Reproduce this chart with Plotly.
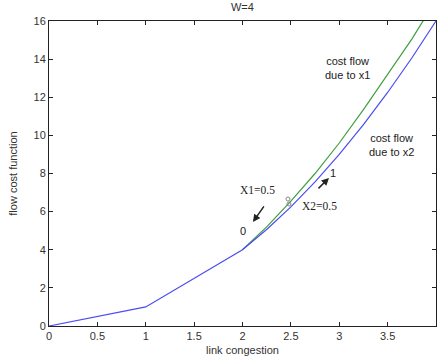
import plotly.graph_objects as go

# Data
blue_x = [0, 1, 2, 2.25, 2.5, 2.75, 3, 3.25, 3.5, 3.75, 4]
blue_y = [0, 1, 4, 5.06, 6.25, 7.56, 9, 10.56, 12.25, 14.06, 16]
green_x = [2, 2.25, 2.5, 2.75, 3, 3.25, 3.5, 3.75, 4]
green_y = [4, 5.2, 6.55, 8.0, 9.6, 11.35, 13.2, 15.05, 17.1]
mark_x = [2.47, 2.48]
mark_y = [6.66, 6.40]

x_ticks = [0, 0.5, 1, 1.5, 2, 2.5, 3, 3.5, 4]
x_labels = ["0", "0.5", "1", "1.5", "2", "2.5", "3", "3.5", "4"]
y_ticks = [0, 2, 4, 6, 8, 10, 12, 14, 16]

FONT = "Liberation Sans, Arial, sans-serif"
SERIF = "Liberation Serif, Times New Roman, serif"

fig = go.Figure()
fig.add_trace(go.Scatter(x=green_x, y=green_y, mode="lines",
                         line=dict(color="#3f9f3f", width=1.2), hoverinfo="skip"))
fig.add_trace(go.Scatter(x=blue_x, y=blue_y, mode="lines",
                         line=dict(color="#4b4bf2", width=1.2), hoverinfo="skip"))
fig.add_trace(go.Scatter(x=mark_x, y=mark_y, mode="markers",
                         marker=dict(symbol="circle-open", size=4, color="#888888",
                                     line=dict(width=1, color="#888888")),
                         hoverinfo="skip"))

annots = [
    dict(x=3.09, y=13.56, text="cost flow<br>due to x1", font=dict(family=FONT, size=11, color="#222")),
    dict(x=3.545, y=9.52, text="cost flow<br>due to x2", font=dict(family=FONT, size=11, color="#222")),
    dict(x=2.15, y=7.14, text="X1=0.5", font=dict(family=SERIF, size=11.5, color="#222")),
    dict(x=2.80, y=6.30, text="X2=0.5", font=dict(family=SERIF, size=11.5, color="#222")),
    dict(x=2.005, y=4.98, text="0", font=dict(family=FONT, size=11, color="#222")),
    dict(x=2.935, y=8.03, text="1", font=dict(family=FONT, size=11, color="#222")),
]
for a in annots:
    fig.add_annotation(showarrow=False, xref="x", yref="y", align="center", **a)

# arrows
fig.add_annotation(x=2.108, y=5.46, ax=12, ay=-17, xref="x", yref="y", text="",
                   showarrow=True, arrowhead=2, arrowsize=1, arrowwidth=1.5, arrowcolor="#222")
fig.add_annotation(x=2.894, y=7.77, ax=-12, ay=12, xref="x", yref="y", text="",
                   showarrow=True, arrowhead=2, arrowsize=1, arrowwidth=1.5, arrowcolor="#222")

fig.update_layout(
    width=438, height=363,
    margin=dict(l=49, r=2, t=21, b=37, autoexpand=False),
    paper_bgcolor="white", plot_bgcolor="white",
    showlegend=False,
    title=dict(text="W=4", x=0.5535, xanchor="center", y=0.99, yanchor="top",
               font=dict(family=FONT, size=11, color="#333")),
    font=dict(family=FONT, size=11, color="#333"),
)
fig.update_xaxes(range=[0, 4], tickvals=x_ticks, ticktext=x_labels,
                 ticks="inside", ticklen=4, tickcolor="#222",
                 showline=True, linecolor="#222", linewidth=1, mirror="allticks",
                 showgrid=False, zeroline=False, automargin=False,
                 title=dict(text="link congestion", standoff=5, font=dict(size=11, color="#333")),
                 tickfont=dict(size=11, color="#333"))
fig.update_yaxes(range=[0, 16], tickvals=y_ticks,
                 ticks="inside", ticklen=4, tickcolor="#222",
                 showline=True, linecolor="#222", linewidth=1, mirror="allticks",
                 showgrid=False, zeroline=False, automargin=False,
                 title=dict(text="flow cost function", standoff=13, font=dict(size=11, color="#333")),
                 tickfont=dict(size=11, color="#333"))

fig.write_html("out.html", config={"displayModeBar": False},
               post_script="document.body.style.margin='0';document.body.style.overflow='hidden';")
